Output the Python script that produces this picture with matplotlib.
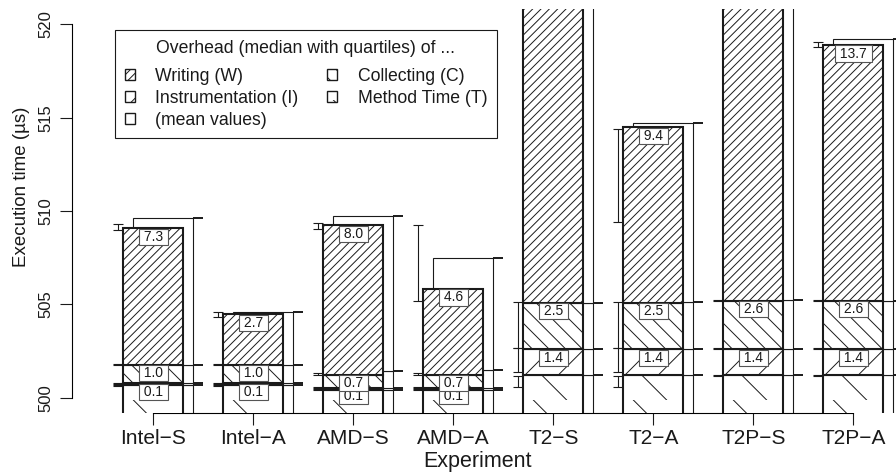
import warnings
import numpy as np
import matplotlib
matplotlib.use("Agg")
import matplotlib.pyplot as plt
import matplotlib.hatch as mhatch
from matplotlib.patches import Patch

warnings.filterwarnings("ignore", message=".*hatch.*")


# extra-sparse "\" hatch for the method time part: 'n' = half the usual line count
class SparseBackslash(mhatch.SouthEastHatch):
    def __init__(self, hatch, density):
        self.num_lines = int(hatch.count('n') * density / 2)
        self.num_vertices = (self.num_lines + 1) * 2 if self.num_lines else 0


mhatch._hatch_types.append(SparseBackslash)

plt.rcParams['font.family'] = ['Liberation Sans', 'DejaVu Sans']
plt.rcParams['hatch.linewidth'] = 0.7

experiments = ["Intel\u2212S", "Intel\u2212A", "AMD\u2212S", "AMD\u2212A",
               "T2\u2212S", "T2\u2212A", "T2P\u2212S", "T2P\u2212A"]

# medians in us: method time (absolute) + overheads stacked on top
med_T = [500.67, 500.67, 500.44, 500.44, 501.2, 501.2, 501.2, 501.2]
med_I = [0.1, 0.1, 0.1, 0.1, 1.4, 1.4, 1.4, 1.4]
med_C = [1.0, 1.0, 0.7, 0.7, 2.5, 2.5, 2.6, 2.6]
med_W = [7.3, 2.7, 8.0, 4.6, 18.6, 9.4, 19.2, 13.7]

# mean values
mean_T = [500.67, 500.67, 500.44, 500.44, 501.2, 501.2, 501.2, 501.2]
mean_I = [0.1, 0.1, 0.1, 0.1, 1.4, 1.4, 1.4, 1.4]
mean_C = [1.0, 1.0, 0.9, 0.93, 2.5, 2.55, 2.65, 2.6]
mean_W = [7.84, 2.84, 8.3, 6.0, 19.4, 9.58, 19.8, 14.0]

# lower / upper quartiles of the cumulative time at the top of each part
q_T_lo = [500.64, 500.64, 500.42, 500.42, 500.55, 500.55, 501.15, 501.15]
q_T_hi = [500.69, 500.69, 500.46, 500.46, 501.15, 501.15, 501.2, 501.2]
q_I_lo = [500.76, 500.76, 500.53, 500.53, 501.4, 501.4, 502.6, 502.6]
q_I_hi = [500.79, 500.79, 500.56, 500.56, 502.65, 502.65, 502.65, 502.65]
q_C_lo = [501.75, 501.75, 501.22, 501.22, 502.65, 502.65, 505.2, 505.2]
q_C_hi = [501.8, 501.8, 501.33, 501.33, 505.15, 505.15, 505.25, 505.25]
q_W_lo = [509.0, 504.3, 509.05, 505.2, 521.5, 509.4, 521.5, 518.8]
q_W_hi = [509.3, 504.57, 509.35, 509.25, 524.0, 514.4, 524.0, 519.07]

ink = '#1a1a1a'
n = len(experiments)
x = np.arange(n)

fig = plt.figure(figsize=(8.96, 4.74), dpi=100)
ax = fig.add_axes([72 / 896, 1 - 412.7 / 474, 824 / 896, (412.7 - 9.4) / 474])

# mean values: plain boxes behind, shifted right
bottom = np.zeros(n)
for vals in [mean_T, mean_I, mean_C, mean_W]:
    ax.bar(x + 0.1, vals, 0.6, bottom=bottom, color='white',
           edgecolor=ink, lw=0.8, zorder=2)
    bottom = bottom + np.array(vals)
    ax.hlines(bottom, x + 0.4, x + 0.5, color=ink, lw=1.4, zorder=2)

# medians: hatched stacked bars
bottom = np.zeros(n)
parts = [(med_T, 'n'), (med_I, '/'), (med_C, '\\\\'), (med_W, '////')]
for k, (vals, hatch) in enumerate(parts):
    ax.bar(x, vals, 0.6, bottom=bottom, color='white', edgecolor=ink,
           lw=1.5, hatch=hatch, zorder=3)
    bottom = bottom + np.array(vals)
    if k == 0:
        continue
    for xi, top, v in zip(x, bottom, vals):
        ax.annotate(f" {v:.1f} ", (xi, top), xytext=(0, -1.2),
                    textcoords='offset points', ha='center', va='top',
                    fontsize=10, color=ink, zorder=5, clip_on=True,
                    bbox=dict(boxstyle='square,pad=0.08', fc='white',
                              ec='#555555', lw=0.8))

# quartile whiskers left of each bar
for lo, hi in [(q_T_lo, q_T_hi), (q_I_lo, q_I_hi), (q_C_lo, q_C_hi), (q_W_lo, q_W_hi)]:
    ax.vlines(x - 0.35, lo, hi, color=ink, lw=0.8, zorder=4)
    ax.hlines(lo, x - 0.4, x - 0.3, color=ink, lw=0.8, zorder=4)
    ax.hlines(hi, x - 0.4, x - 0.3, color=ink, lw=0.8, zorder=4)

ax.set_xlim(-0.813, 7.427)
ax.set_ylim(499.2, 520.8)
for s in ['top', 'right']:
    ax.spines[s].set_visible(False)
ax.spines['left'].set_bounds(500, 520)
ax.spines['bottom'].set_bounds(0, n - 1)
ax.spines['left'].set_linewidth(0.8)
ax.spines['bottom'].set_linewidth(0.8)

ax.set_xticks(x)
ax.set_xticklabels(experiments, fontsize=15, color=ink)
ax.set_yticks([500, 505, 510, 515, 520])
ax.set_yticklabels(['500', '505', '510', '515', '520'], rotation=90,
                   va='center', fontsize=12, color=ink)
ax.tick_params(length=8.5, width=0.8, color=ink)
ax.tick_params(axis='x', pad=3)
ax.tick_params(axis='y', pad=5)

ax.set_xlabel('Experiment', fontsize=15.5, color=ink)
ax.xaxis.set_label_coords((477 - 72) / 824, -(462 - 412.7) / 403.3)
ax.xaxis.label.set_va('center')
ax.set_ylabel('Execution time (\u00b5s)', fontsize=13.5, color=ink)
ax.yaxis.set_label_coords((22 - 72) / 824, (412.7 - 187) / 403.3)
ax.yaxis.label.set_va('center')

handles = [
    Patch(fc='white', ec=ink, hatch='////', label='Writing (W)'),
    Patch(fc='white', ec=ink, hatch='/', label='Instrumentation (I)'),
    Patch(fc='white', ec=ink, label='(mean values)'),
    Patch(fc='white', ec=ink, hatch='\\\\', label='Collecting (C)'),
    Patch(fc='white', ec=ink, hatch='n', label='Method Time (T)'),
]
leg = ax.legend(handles=handles, ncol=2,
                title='Overhead (median with quartiles) of ...\n',
                loc='upper left', bbox_to_anchor=(0.052, 0.949),
                fontsize=12.7, title_fontsize=12.7, fancybox=False,
                edgecolor=ink, framealpha=1, handlelength=0.6,
                handleheight=0.6, handletextpad=1.15, columnspacing=1.6,
                labelspacing=0.27, borderpad=0.55, borderaxespad=0)
leg.get_frame().set_linewidth(0.8)
leg.set_zorder(10)
leg.get_title().set_linespacing(0.2)
for t in leg.get_texts():
    t.set_color(ink)
leg.get_title().set_color(ink)

fig.savefig('out.png', dpi=100)
